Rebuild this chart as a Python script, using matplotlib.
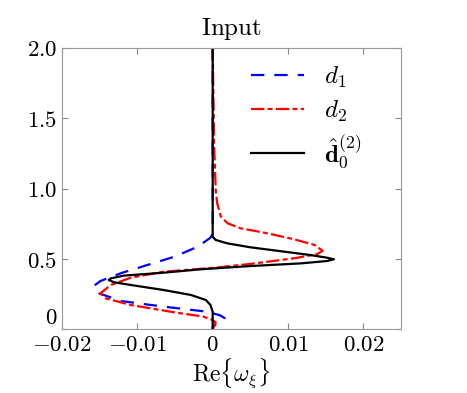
import numpy as np
import matplotlib
matplotlib.use('Agg')
import matplotlib.pyplot as plt

plt.rcParams['mathtext.fontset'] = 'cm'
plt.rcParams['font.family'] = 'serif'
plt.rcParams['font.serif'] = ['DejaVu Serif']

# d1 (blue dashed): (Re{w}, y)
d1_x = [0, 0, 0, -0.0003, -0.002, -0.0051, -0.0087, -0.0122, -0.0149, -0.0158,
        -0.0151, -0.0122, -0.0065, -0.0007, 0.0010, 0.0016, 0.0012, 0.0004, 0.0, 0.0]
d1_y = [2.0, 1.0, 0.68, 0.651, 0.587, 0.516, 0.457, 0.399, 0.344, 0.308,
        0.257, 0.202, 0.162, 0.126, 0.10, 0.08, 0.06, 0.035, 0.02, 0.0]

# d2 (red dash-dot)
d2_x = [0, 0.0002, 0.0004, 0.0006, 0.0011, 0.002, 0.0037, 0.0073, 0.0108, 0.0135,
        0.0146, 0.0139, 0.0108, 0.005, 0.0002, -0.0065, -0.0109, -0.0135, -0.0149,
        -0.0142, -0.0109, -0.0051, -0.0012, 0.0, 0.0004, 0.0002, 0.0]
d2_y = [2.0, 1.3, 0.99, 0.895, 0.80, 0.753, 0.718, 0.682, 0.64, 0.60,
        0.559, 0.535, 0.505, 0.465, 0.438, 0.41, 0.367, 0.316, 0.257,
        0.221, 0.174, 0.122, 0.091, 0.067, 0.05, 0.025, 0.0]

# d0 hat (black solid)
d0_x = [0, 0, 0, 0.0004, 0.00195, 0.005, 0.0095, 0.013, 0.0152, 0.0161, 0.0152,
        0.0117, 0.005, -0.0016, -0.0065, -0.0118, -0.0135, -0.0138, -0.0131,
        -0.0109, -0.0065, -0.0029, -0.0009, -0.0003, 0.0, 0.0]
d0_y = [2.0, 0.70, 0.658, 0.635, 0.611, 0.583, 0.552, 0.528, 0.509, 0.498, 0.486,
        0.469, 0.45, 0.427, 0.403, 0.382, 0.363, 0.351, 0.335,
        0.316, 0.28, 0.245, 0.209, 0.174, 0.126, 0.0]

xticks = [-0.02, -0.01, 0, 0.01, 0.02]
xticklabels = [r'$-0.02$', r'$-0.01$', r'$0$', r'$0.01$', r'$0.02$']
yticks = [0, 0.5, 1.0, 1.5, 2.0]
yticklabels = [r'$0$', r'$0.5$', r'$1.0$', r'$1.5$', r'$2.0$']

fig = plt.figure(figsize=(4.67, 3.93), dpi=100)
ax = fig.add_axes([0.1328, 0.1616, 0.7259, 0.7174])

ax.plot(d1_x, d1_y, color='blue', ls=(0, (6, 4.5)), lw=1.6, label=r'$d_1$')
ax.plot(d2_x, d2_y, color='red', ls=(0, (6, 1.5, 2.2, 1.5)), lw=1.6, label=r'$d_2$')
ax.plot(d0_x, d0_y, color='black', lw=1.6, label=r'$\hat{\mathbf{d}}_0^{(2)}$')

ax.set_xlim(-0.02, 0.025)
ax.set_ylim(0, 2.0)
ax.set_xticks(xticks)
ax.set_xticklabels(xticklabels, fontsize=16.5)
ax.set_yticks(yticks)
ax.set_yticklabels(yticklabels, fontsize=16.5)
ax.get_yticklabels()[0].set_va('bottom')
ax.tick_params(direction='in', top=True, right=True, color='#888888', length=4)
for s in ax.spines.values():
    s.set_color('#999999')

ax.set_title(r'$\mathrm{Input}$', fontsize=18, pad=9)
ax.set_xlabel(r'$\mathrm{Re}\{\omega_\xi\}$', fontsize=17, labelpad=0)

ax.legend(loc='upper right', bbox_to_anchor=(0.935, 1.0), frameon=False,
          fontsize=18, handlelength=2.1, borderaxespad=0.3, labelspacing=0.35,
          handletextpad=0.8)

plt.savefig('out.png', dpi=100)
